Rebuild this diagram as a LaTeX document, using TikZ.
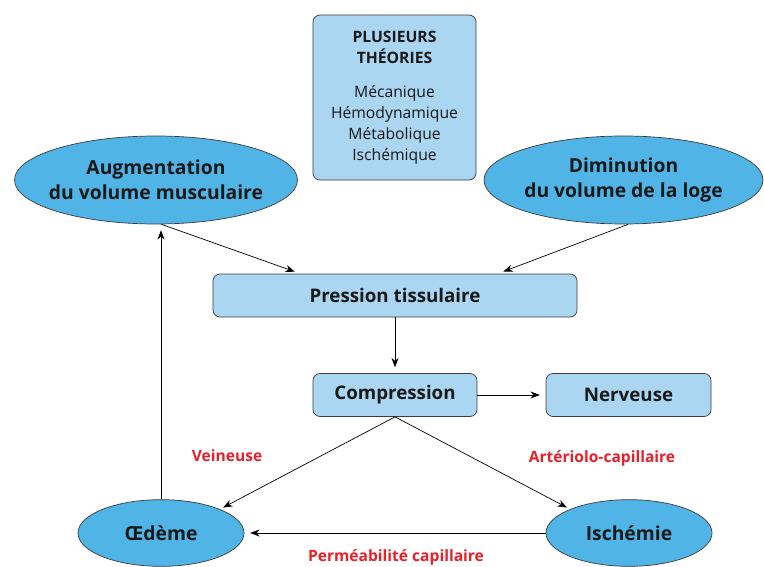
\documentclass[tikz,border=0pt]{standalone}
\usepackage{fontspec}
\setmainfont{Open Sans}
\usepackage{tikz}
\usetikzlibrary{arrows.meta}
\usetikzlibrary{shapes.geometric}

\definecolor{ovalblue}{RGB}{80,180,230}
\definecolor{boxblue}{RGB}{170,214,242}
\definecolor{labelred}{RGB}{232,32,42}
\definecolor{edgegray}{RGB}{60,60,60}

\begin{document}
\begin{tikzpicture}[x=0.03cm, y=-0.03cm, line width=0.6pt, >={Stealth[length=8pt, width=6pt]},
    oval/.style = {draw=edgegray, ellipse, fill=ovalblue, inner xsep=-10pt, inner ysep=0pt, align=center, text=black!90, font=\bfseries\fontsize{16.5}{21.5}\selectfont},
    box/.style = {draw=edgegray, rounded corners=6pt, fill=boxblue, inner sep=0pt, align=center, text=black!90, font=\bfseries\fontsize{16}{18}\selectfont},
    lbl/.style = {text=labelred, font=\bfseries\fontsize{13.3}{15}\selectfont}]

    \useasboundingbox (0,0) rectangle (764,567);

    \node [box, minimum width=4.89cm, minimum height=4.95cm, font=\fontsize{13.4}{17.9}\selectfont] (theo) at (394.5, 97.5)
        {\textbf{PLUSIEURS}\\\textbf{THÉORIES}\\[11pt]Mécanique\\Hémodynamique\\Métabolique\\Ischémique};

    \node [oval, minimum width=8.49cm, minimum height=2.64cm] (aug) at (156, 180) {Augmentation\\du volume musculaire};
    \node [oval, minimum width=8.37cm, minimum height=2.64cm] (dim) at (623.5, 180) {Diminution\\du volume de la loge};

    \node [box, minimum width=10.92cm, minimum height=1.29cm] (press) at (395, 295.5) {Pression tissulaire};
    \node [box, minimum width=4.92cm, minimum height=1.29cm] (comp) at (395, 395) {Compression};
    \node [box, minimum width=4.95cm, minimum height=1.29cm] (nerv) at (628.5, 395) {Nerveuse};

    \node [oval, minimum width=4.98cm, minimum height=2cm] (oed) at (161, 533) {Œdème};
    \node [oval, minimum width=4.98cm, minimum height=2cm] (isch) at (629, 533) {Ischémie};

    \node [lbl] (vein) at (227, 456) {Veineuse};
    \node [lbl] (art) at (602, 458) {Artériolo-capillaire};
    \node [lbl] (perm) at (396, 557) {Perméabilité capillaire};


    \draw[->, shorten >=5pt] (aug.-83) to (press.167.6);
    \draw[->, shorten >=5pt] (dim.-84) to (press.12.1);
    \draw[->, shorten >=5pt] (press.south) to (comp.north);
    \draw[->, shorten >=5pt] (comp.east) to (nerv.west);
    \draw[->, shorten >=3pt] (comp.south) to (oed.north east);
    \draw[->, shorten >=3pt] (comp.south) to (isch.north west);
    \draw[->, shorten >=5pt] (isch.west) to (oed.east);
    \draw[->, shorten >=5pt] (oed.north) to (aug.south -| oed.north);

\end{tikzpicture}
\end{document}
